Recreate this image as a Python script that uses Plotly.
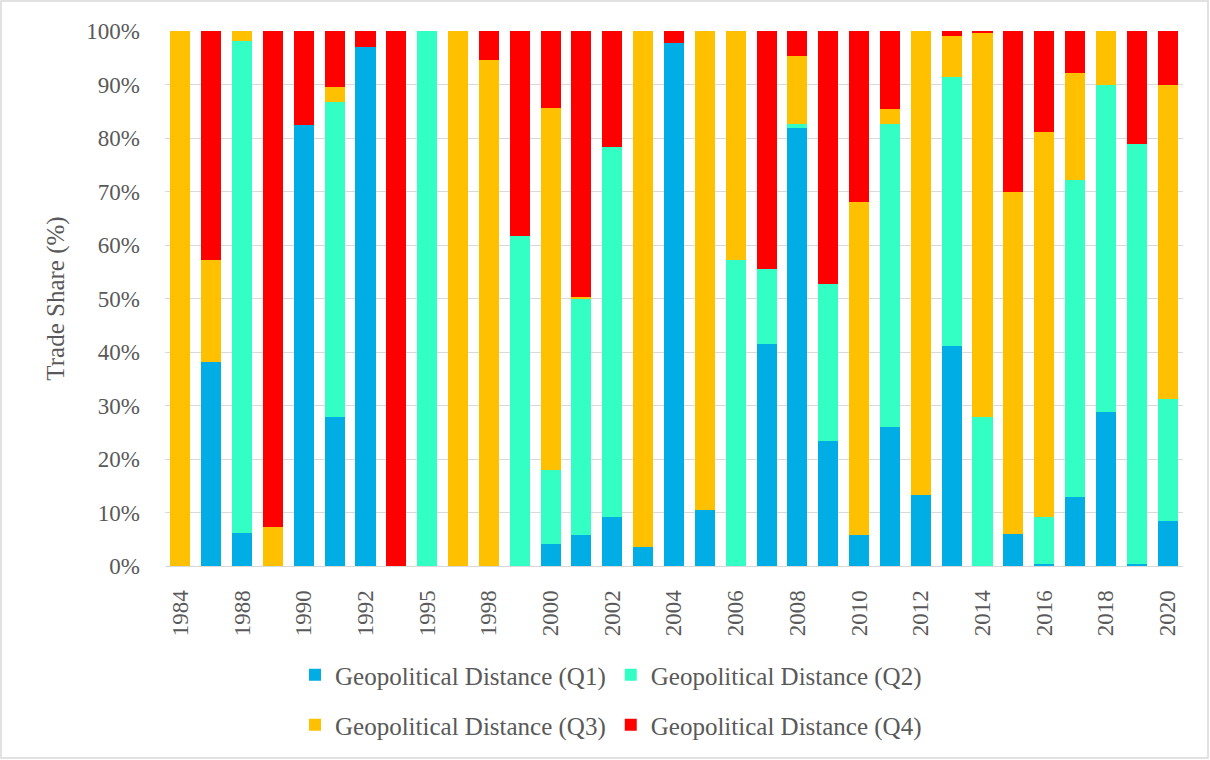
import plotly.graph_objects as go

# Years on the category axis (unlabelled ones are hidden between labelled ticks)
years = ["1984", "1986", "1988", "1989", "1990", "1991", "1992", "1994", "1995",
         "1997", "1998", "1999", "2000", "2001", "2002", "2003", "2004", "2005",
         "2006", "2007", "2008", "2009", "2010", "2011", "2012", "2013", "2014",
         "2015", "2016", "2017", "2018", "2019", "2020"]
tick_years = ["1984", "1988", "1990", "1992", "1995", "1998", "2000", "2002", "2004",
              "2006", "2008", "2010", "2012", "2014", "2016", "2018", "2020"]

# Trade share (%) by geopolitical distance quartile
q1 = [0, 38.1, 6.2, 0, 82.4, 27.9, 97.0, 0, 0, 0, 0, 0, 4.2, 5.8, 9.2, 3.5, 97.7,
      10.4, 0, 41.5, 81.9, 23.4, 5.8, 26.0, 13.2, 41.1, 0, 6.0, 0.3, 12.9, 28.7, 0.3, 8.4]
q2 = [0, 0, 91.9, 0, 0, 58.8, 0, 0, 100, 0, 0, 61.7, 13.8, 44.2, 69.1, 0, 0,
      0, 57.2, 14.0, 0.8, 29.3, 0, 56.7, 0, 50.3, 27.9, 0, 8.9, 59.3, 61.2, 78.6, 22.8]
q3 = [100, 19.1, 1.9, 7.2, 0, 2.8, 0, 0, 0, 100, 94.6, 0, 67.7, 0.2, 0, 96.5, 0,
      89.6, 42.8, 0, 12.7, 0, 62.2, 2.8, 86.8, 7.7, 71.8, 63.9, 71.9, 20.0, 10.1, 0, 58.7]
q4 = [0, 42.8, 0, 92.8, 17.6, 10.5, 3.0, 100, 0, 0, 5.4, 38.3, 14.3, 49.8, 21.7, 0, 2.3,
      0, 0, 44.5, 4.6, 47.3, 32.0, 14.5, 0, 0.9, 0.3, 30.1, 18.9, 7.8, 0, 21.1, 10.1]

names = ["Geopolitical Distance (Q1)", "Geopolitical Distance (Q2)",
         "Geopolitical Distance (Q3)", "Geopolitical Distance (Q4)"]
colors = ["#00ADE4", "#33FFC4", "#FFC000", "#FF0000"]
legends = ["legend", "legend", "legend2", "legend2"]

text_color = "#595959"
font_family = "Liberation Serif"

fig = go.Figure()
for series, name, color, leg in zip([q1, q2, q3, q4], names, colors, legends):
    fig.add_trace(go.Bar(
        x=years, y=series, name=name, legend=leg,
        marker=dict(color=color, line=dict(width=0)),
    ))

W, H = 1210, 760
ml, mr, mt, mb = 165, 27, 31, 194
pw, ph = W - ml - mr, H - mt - mb

fig.update_layout(
    width=W, height=H,
    barmode="stack", bargap=0.35,
    plot_bgcolor="white", paper_bgcolor="white",
    margin=dict(l=ml, r=mr, t=mt, b=mb),
    font=dict(family=font_family, color=text_color, size=22),
    legend=dict(orientation="h", x=(611 - ml) / pw, xanchor="center",
                y=(mt + ph - 675) / ph, yanchor="middle",
                font=dict(size=25), traceorder="normal"),
    legend2=dict(orientation="h", x=(611 - ml) / pw, xanchor="center",
                 y=(mt + ph - 725) / ph, yanchor="middle",
                 font=dict(size=25), traceorder="normal"),
    # light chart-area border
    shapes=[dict(type="rect", xref="paper", yref="paper",
                 x0=-(ml - 1) / pw, x1=1 + (mr - 2) / pw,
                 y0=-(mb - 2) / ph, y1=1 + (mt - 1) / ph,
                 line=dict(color="#D9D9D9", width=1.5))],
)

fig.update_xaxes(
    type="category", tickmode="array", tickvals=tick_years, ticktext=tick_years,
    tickangle=-90, tickfont=dict(size=23), showgrid=False, ticklabelstandoff=14,
    showline=True, linecolor="#D9D9D9", linewidth=1, ticks="",
)
fig.update_yaxes(
    range=[0, 100], dtick=10, ticksuffix="%", tickfont=dict(size=23),
    ticklabelstandoff=24,
    showgrid=True, gridcolor="#D9D9D9", gridwidth=1, zeroline=False,
    title=dict(text="Trade Share (%)", font=dict(size=25), standoff=14),
)

fig.write_html("out.html", config={"displayModeBar": False},
               post_script="document.body.style.margin='0';")
